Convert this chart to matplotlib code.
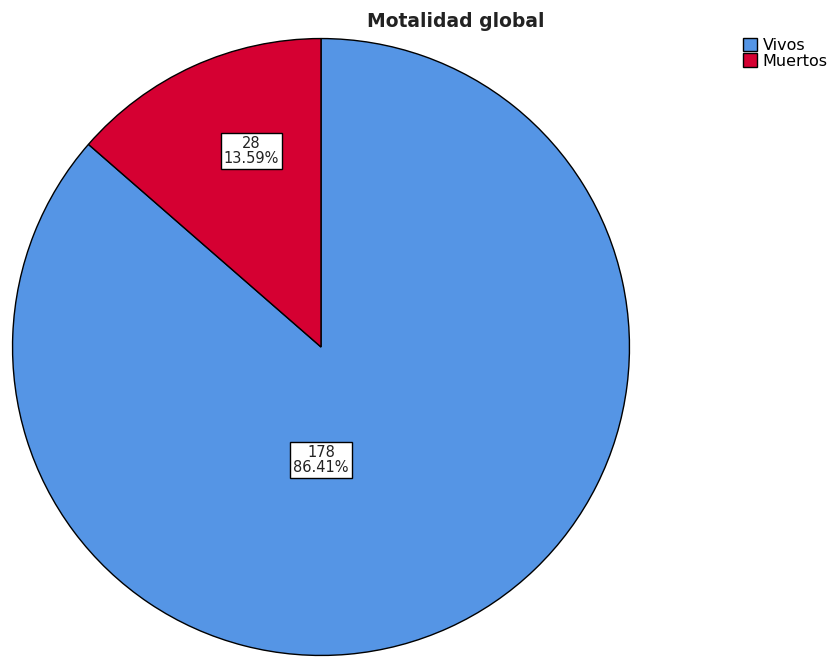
import numpy as np
import matplotlib.pyplot as plt
from matplotlib.patches import Patch

categorias = ["Vivos", "Muertos"]
casos = [178, 28]
colores = ["#5595e5", "#d50032"]

total = sum(casos)
porcentajes = [100 * c / total for c in casos]

fig = plt.figure(figsize=(8.36, 6.57), dpi=100)
ax = fig.add_axes([11 / 836, 0.0, 620 / 836, 620 / 657])

wedges, _ = ax.pie(casos, colors=colores, startangle=90, counterclock=False,
                   wedgeprops=dict(edgecolor="black", linewidth=1))
ax.set_xlim(-1.005, 1.005)
ax.set_ylim(-1.005, 1.005)
ax.set_aspect("equal")

# etiquetas con conteo y porcentaje
pos = [(0.0, -0.365), None]
for i, w in enumerate(wedges):
    if pos[i] is None:
        ang = np.deg2rad((w.theta1 + w.theta2) / 2 - 5)
        x, y = 0.675 * np.cos(ang), 0.675 * np.sin(ang)
    else:
        x, y = pos[i]
    ax.text(x, y, f"{casos[i]}\n{porcentajes[i]:.2f}%", ha="center", va="center",
            fontsize=10.5, linespacing=1.0, color="#222222",
            bbox=dict(boxstyle="square,pad=0.2", fc="white", ec="black", lw=1))

fig.text(0.545, 0.968, "Motalidad global", ha="center", va="center",
         fontsize=13.5, fontweight="bold", color="#222222")

handles = [Patch(facecolor=c, edgecolor="black", label=l) for c, l in zip(colores, categorias)]
fig.legend(handles=handles, loc="upper left", bbox_to_anchor=(0.879, 0.955),
           frameon=False, fontsize=11.5, handlelength=0.9, handleheight=0.9,
           handletextpad=0.35, labelspacing=0.05, borderpad=0)

fig.savefig("out.png", dpi=100)
